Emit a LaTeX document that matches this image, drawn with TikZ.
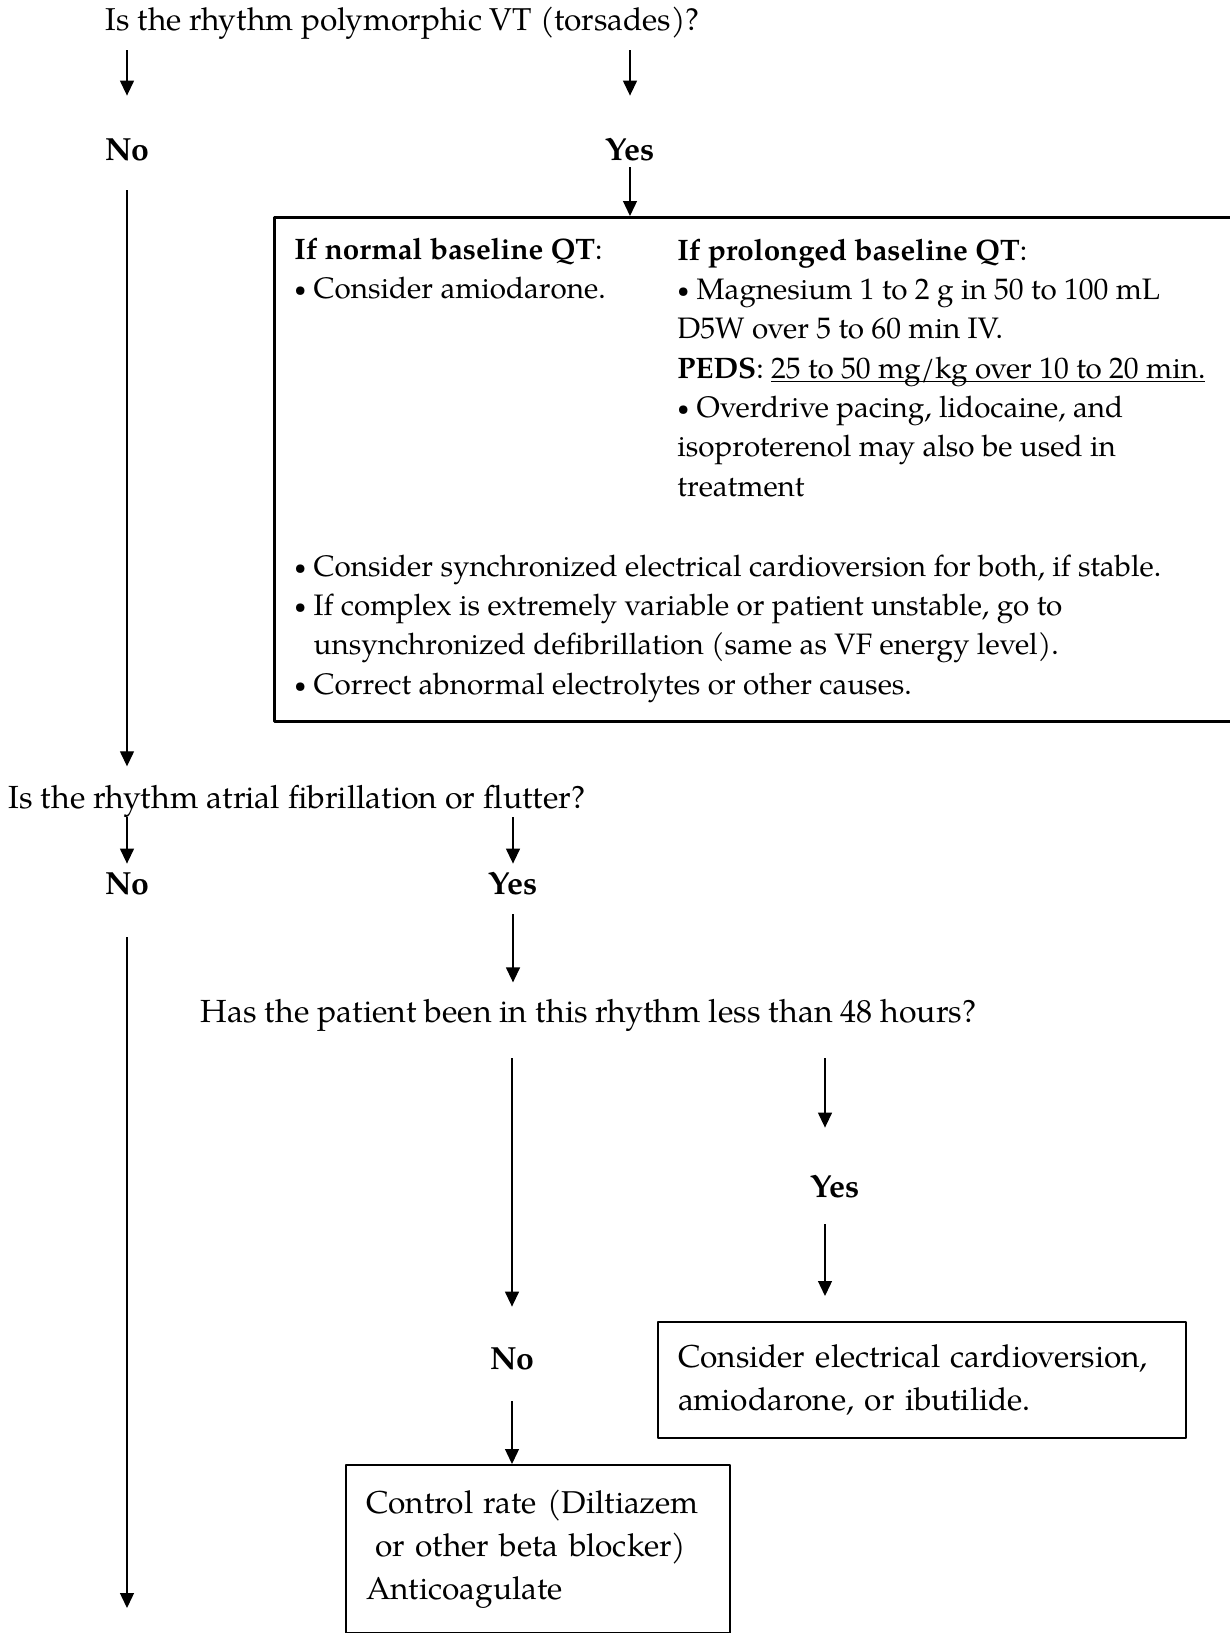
\documentclass[tikz,border=0pt]{standalone}
\usepackage{fontspec}
\setmainfont{TeX Gyre Pagella}
\usetikzlibrary{arrows.meta,positioning}
\newcommand\dotitem{\raisebox{0.12ex}{\scalebox{0.72}{\textbullet}}}
\newcommand\lowline[1]{\underline{\smash{#1}}}
\tikzset{
	txt/.style={inner sep=0pt, align=left, font=\fontsize{16pt}{19.7pt}\selectfont},
	boxtxt/.style={inner sep=0pt, align=left, font=\fontsize{14.8pt}{19.65pt}\selectfont},
	lbl/.style={inner sep=0pt, font=\fontsize{16pt}{19.7pt}\selectfont\bfseries, text height=10.5pt, text depth=0pt},
	frame/.style={draw, line width=1pt, inner sep=0pt},
	rxbox/.style={frame, anchor=north west, align=left, inner xsep=10pt, font=\fontsize{15.8pt}{21.4pt}\selectfont},
	arr/.style={-{Triangle[length=7.5pt,width=7pt]}, line width=0.65pt},
}
\begin{document}
\begin{tikzpicture}[x=0.5pt, y=-0.5pt, line join=round]
	\useasboundingbox (0,0) rectangle (1230,1633);
	% torsades question
	\node[txt, font=\fontsize{15.8pt}{19.7pt}\selectfont, anchor=base west] (q1) at (105,31) {Is the rhythm polymorphic VT (torsades)?};
	\node[lbl] (no1) at (127,150) {No};
	\node[lbl] (yes1) at (630,150) {Yes};
	\node[frame, line width=1.35pt, anchor=north west, minimum width=495pt, minimum height=252pt] (box1) at (273,216) {};
	\node[boxtxt, anchor=base west] (qtnormal) at (294,298.5) {\textbf{If normal baseline QT}:\\
		\dotitem{} Consider amiodarone.};
	\node[boxtxt, anchor=base west] (qtlong) at (677,496) {\textbf{If prolonged baseline QT}:\\
		\dotitem{} Magnesium 1 to 2 g in 50 to 100 mL\\
		D5W over 5 to 60 min IV.\\
		\textbf{PEDS}: \lowline{25 to 50 mg/kg over 10 to 20 min.}\\
		\dotitem{} Overdrive pacing, lidocaine, and\\
		isoproterenol may also be used in\\
		treatment};
	\node[boxtxt, anchor=base west] (boxfoot) at (294,694) {\dotitem{} Consider synchronized electrical cardioversion for both, if stable.\\
		\dotitem{} If complex is extremely variable or patient unstable, go to\\
		\hphantom{\dotitem{} }unsynchronized defibrillation (same as VF energy level).\\
		\dotitem{} Correct abnormal electrolytes or other causes.};
	\draw[arr, shorten <=5pt, shorten >=21.75pt] (q1.south -| no1) -- (no1.north);
	\draw[arr, shorten <=5pt, shorten >=21.75pt] (q1.south -| yes1) -- (yes1.north);
	\draw[arr, shorten <=3.25pt] (yes1.south) -- (box1.north -| yes1);
	% atrial fibrillation question
	\node[txt, anchor=base west] (q2) at (8,808) {Is the rhythm atrial fibrillation or flutter?};
	\draw[arr, shorten <=14.75pt, shorten >=9pt] (no1.south) -- (q2.north -| no1);
	\node[lbl] (no2) at (127,884) {No};
	\node[lbl] (yes2) at (513,884) {Yes};
	\draw[arr, shorten >=4.75pt] (q2.south -| no2) -- (no2.north);
	\draw[arr, shorten >=4.75pt] (q2.south -| yes2) -- (yes2.north);
	\coordinate (exit) at (127,1608);
	\draw[arr, shorten <=21.25pt] (no2.south) -- (exit);
	% duration question
	\node[txt, anchor=base west] (q3) at (200,1022) {Has the patient been in this rhythm less than 48 hours?};
	\draw[arr, shorten <=9.75pt, shorten >=8pt] (yes2.south) -- (q3.north -| yes2);
	\node[lbl] (yes3) at (835,1187) {Yes};
	\node[lbl] (no3) at (512,1359) {No};
	\draw[arr, shorten <=13.5pt, shorten >=20.75pt] (q3.south -| no3) -- (no3.north);
	\draw[arr, shorten <=13.5pt, shorten >=24.25pt] ([xshift=-5pt]q3.south -| yes3) -- ([xshift=-5pt]yes3.north);
	\node[rxbox, text width=244pt, minimum height=58pt] (cvbox) at (657,1321) {Consider electrical cardioversion,\\ amiodarone, or ibutilide.};
	\node[rxbox, text width=172pt, minimum height=84pt] (ratebox) at (345,1464) {Control rate (Diltiazem\\ \hspace{0.3em}or other beta blocker)\\ Anticoagulate};
	\draw[arr, shorten <=13.25pt, shorten >=12.5pt] ([xshift=-5pt]yes3.south) -- ([xshift=-5pt]cvbox.north -| yes3);
	\draw[arr, shorten <=15.75pt] (no3.south) -- (ratebox.north -| no3);
\end{tikzpicture}
\end{document}
